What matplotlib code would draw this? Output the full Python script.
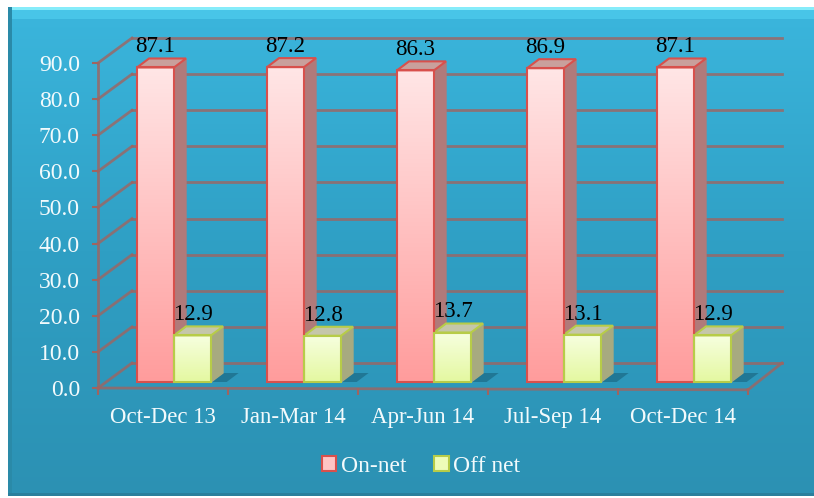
import numpy as np
import matplotlib
matplotlib.use("Agg")
import matplotlib.pyplot as plt
from matplotlib.patches import Polygon, Rectangle
from matplotlib.colors import LinearSegmentedColormap

categories = ["Oct-Dec 13", "Jan-Mar 14", "Apr-Jun 14", "Jul-Sep 14", "Oct-Dec 14"]
on_net = [87.1, 87.2, 86.3, 86.9, 87.1]
off_net = [12.9, 12.8, 13.7, 13.1, 12.9]
yticks = [0, 10, 20, 30, 40, 50, 60, 70, 80, 90]

plt.rcParams['font.family'] = ['Liberation Serif', 'DejaVu Serif']

W, H = 814, 498
fig = plt.figure(figsize=(W / 100, H / 100), dpi=100)
fig.patch.set_facecolor('white')

# background panel with gradient
bg = fig.add_axes([8 / W, 2 / H, 1 - 8 / W, 1 - 9 / H])
bg.set_axis_off()
grad = np.linspace(0, 1, 256).reshape(-1, 1)
bg_cmap = LinearSegmentedColormap.from_list('bg', ['#3bb6dd', '#2f9fc4', '#2c91b3'])
bg.imshow(grad, aspect='auto', cmap=bg_cmap, extent=[0, 1, 0, 1], origin='upper')
bg.add_patch(Rectangle((0, 0.993), 1, 0.007, color='#86ecfa', lw=0))
bg.add_patch(Rectangle((0, 0.975), 1, 0.018, color='#4fcdee', lw=0, alpha=0.7))
bg.add_patch(Rectangle((0, 0), 0.005, 1, color='#2a8aa8', lw=0))
bg.add_patch(Rectangle((0, 0), 1, 0.006, color='#2a7f9c', lw=0))
bg.set_xlim(0, 1)
bg.set_ylim(0, 1)

# main axes = front plane of 3D box
ax = fig.add_axes([98 / W, 1 - 388 / H, 650 / W, 325 / H])
ax.patch.set_alpha(0)
for s in ax.spines.values():
    s.set_visible(False)

grid_c = '#a06460'
px_x = 650 / 5.0      # px per category
px_y = 325 / 90.0     # px per unit
dxb, dyb = 34 / px_x, 25 / px_y   # back wall depth offset

# back wall gridlines and left wall diagonals
for v in yticks:
    ax.plot([-0.5 + dxb, 4.5 + dxb], [v + dyb, v + dyb], color=grid_c, lw=2, alpha=0.8,
            clip_on=False, zorder=1)
    ax.plot([-0.5, -0.5 + dxb], [v, v + dyb], color=grid_c, lw=2, alpha=0.8,
            clip_on=False, zorder=1)
# front axis line, floor front edge and right floor diagonal
ax.plot([-0.5, -0.5], [0, 90], color=grid_c, lw=2, alpha=0.8, clip_on=False, zorder=1)
ax.plot([-0.5, 4.5], [0, -0.5], color=grid_c, lw=2, alpha=0.8, clip_on=False, zorder=1)
ax.plot([4.5, 4.5 + dxb], [-0.5, dyb], color=grid_c, lw=2, alpha=0.8, clip_on=False, zorder=1)

# bars (mid depth)
x = np.arange(len(categories))
bw = 37 / px_x
bdx, bdy = 11 / px_x, 6 / px_y          # shift of bar front faces from front plane
sdx, sdy = 12 / px_x, 9 / px_y          # bar side depth

series = [
    (on_net, -bw / 2, ['#ffe6e6', '#ff9c9c'], '#d8504c', '#b07a7a', '#c9a09c'),
    (off_net, bw / 2, ['#f7ffe0', '#e4f8a0'], '#b7cc48', '#a7aa80', '#c5c6aa'),
]
for vals, off, grad_cols, edge, side_c, top_c in series:
    cmap = LinearSegmentedColormap.from_list('b', grad_cols)
    xs = x + off + bdx
    bars = ax.bar(xs, vals, width=bw, bottom=bdy, color='none', edgecolor=edge,
                  lw=1.5, zorder=4, clip_on=False)
    for b, v in zip(bars, vals):
        x0 = b.get_x()
        x1 = x0 + bw
        top = bdy + v
        im = ax.imshow(grad, aspect='auto', cmap=cmap, extent=[x0, x1, bdy, top],
                       origin='upper', zorder=3)
        im.set_clip_path(b)
        # side face
        ax.add_patch(Polygon([[x1, bdy], [x1 + sdx, bdy + sdy], [x1 + sdx, top + sdy], [x1, top]],
                             closed=True, facecolor=side_c, edgecolor=side_c, lw=1,
                             zorder=3, clip_on=False))
        # top face
        ax.add_patch(Polygon([[x0, top], [x0 + sdx, top + sdy], [x1 + sdx, top + sdy], [x1, top]],
                             closed=True, facecolor=top_c, edgecolor=edge, lw=1.5,
                             zorder=3, clip_on=False))
        if vals is off_net:
            # floor shadow
            ax.add_patch(Polygon([[x1, bdy], [x1 + sdx, bdy + sdy], [x1 + 2.3 * sdx, bdy + sdy],
                                  [x1 + 1.3 * sdx, bdy]],
                                 closed=True, facecolor='#1d6f8c', edgecolor='none',
                                 alpha=0.8, zorder=2, clip_on=False))
        ax.text(x0 + bw / 2, top + sdy + 0.3, f"{v:.1f}", ha='center', va='bottom',
                fontsize=16.5, color='black', zorder=6, clip_on=False)

ax.set_aspect('auto')
ax.set_xlim(-0.5, 4.5)
ax.set_ylim(0, 90)

# ticks
ax.set_yticks(yticks)
ax.set_yticklabels([f"{v:.1f}" for v in yticks])
ax.tick_params(axis='y', colors=grid_c, labelcolor='#f2fafc', labelsize=17, length=4,
               width=1.5, pad=9, direction='out')
ax.set_xticks(x)
ax.set_xticklabels(categories)
ax.tick_params(axis='x', which='major', length=0, labelcolor='#f2fafc', labelsize=16.5, pad=14)
ax.set_xticks(np.arange(-0.5, 5, 1), minor=True)
ax.tick_params(axis='x', which='minor', length=5, width=1.5, colors=grid_c)

# legend
h1 = Rectangle((0, 0), 1, 1, facecolor='#ffc4c4', edgecolor='#d8504c', lw=1.5)
h2 = Rectangle((0, 0), 1, 1, facecolor='#eefcb8', edgecolor='#b7cc48', lw=1.5)
fig.legend([h1, h2], ["On-net", "Off net"], loc='center', bbox_to_anchor=(421 / W, 1 - 466 / H),
           ncol=2, frameon=False, fontsize=17, labelcolor='#f2fafc', handlelength=0.6,
           handleheight=0.6, handletextpad=0.2, columnspacing=1.2)

fig.savefig("out.png", dpi=100, facecolor=fig.get_facecolor())
